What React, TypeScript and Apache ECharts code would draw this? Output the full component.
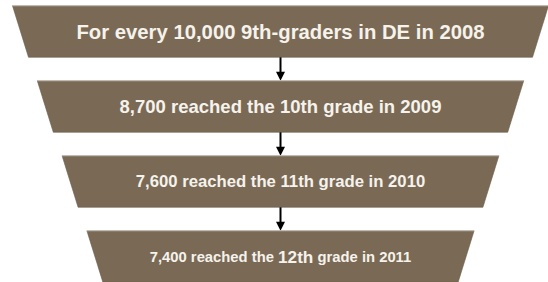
import React, { useEffect, useRef } from "react";
import * as echarts from "echarts";

// Data
const state = "DE";
const grades = ["9th", "10th", "11th", "12th"];
const years = [2008, 2009, 2010, 2011];
const students = [10000, 8700, 7600, 7400];

const fmt = (v: number) => v.toLocaleString("en-US");

const labels = students.map((v, i) =>
  i === 0
    ? `For every ${fmt(v)} ${grades[i]}-graders in ${state} in ${years[i]}`
    : i === students.length - 1
    ? `{a|${fmt(v)} reached the }{b|${grades[i]}}{a| grade in ${years[i]}}`
    : `${fmt(v)} reached the ${grades[i]} grade in ${years[i]}`
);

const FILL = "#7a6a55";
const TEXT = "#f6f2ec";
const FONT = "'Liberation Sans', Arial, sans-serif";
const fontSizes = [20.3, 18.5, 16.7, 14.8];

export default function App() {
  const ref = useRef<HTMLDivElement>(null);
  useEffect(() => {
    if (!ref.current) return;
    const chart = echarts.init(ref.current, undefined, { renderer: "svg" });
    const n = students.length;
    const CX = 280.5;
    chart.setOption({
      animation: false,
      grid: { left: 0, right: 0, top: 0, bottom: 0 },
      xAxis: { type: "value", min: 0, max: 548, show: false },
      yAxis: { type: "value", min: -0.42, max: 3.34, inverse: true, show: false },
      series: [
        {
          type: "custom",
          coordinateSystem: "cartesian2d",
          data: students.map((v, i) => [i, v]),
          renderItem: (params: any, api: any) => {
            const i = api.value(0) as number;
            const c = api.coord([CX, i]);
            const unit = api.size([1, 1]);
            const band = unit[1];
            const h = band * 0.687;
            const topHalf = (268 - 24.8 * i) * unit[0];
            const inset = 16;
            const yTop = c[1] - h / 2;
            const yBot = c[1] + h / 2;
            const children: any[] = [
              {
                type: "polygon",
                shape: {
                  points: [
                    [c[0] - topHalf, yTop],
                    [c[0] + topHalf, yTop],
                    [c[0] + topHalf - inset, yBot],
                    [c[0] - topHalf + inset, yBot],
                  ],
                },
                style: { fill: FILL, stroke: "#6a5b48", lineWidth: 0.6 },
              },
              {
                type: "line",
                shape: { x1: c[0] - topHalf, y1: yTop, x2: c[0] + topHalf, y2: yTop },
                style: { stroke: "#c9c3bb", lineWidth: 1 },
              },
              {
                type: "text",
                style: {
                  text: labels[i],
                  x: c[0],
                  y: c[1],
                  align: "center",
                  verticalAlign: "middle",
                  fill: TEXT,
                  fontSize: fontSizes[i],
                  fontWeight: "bold",
                  fontFamily: FONT,
                  rich: {
                    a: { fill: TEXT, fontSize: fontSizes[i], fontWeight: "bold", fontFamily: FONT },
                    b: { fill: TEXT, fontSize: 17.2, fontWeight: "bold", fontFamily: FONT },
                  },
                },
              },
            ];
            if (i < n - 1) {
              const nextTop = yTop + band;
              const headH = 9;
              children.push(
                {
                  type: "line",
                  shape: { x1: c[0], y1: yBot, x2: c[0], y2: nextTop - headH + 1 },
                  style: { stroke: "#000", lineWidth: 2 },
                },
                {
                  type: "polygon",
                  shape: {
                    points: [
                      [c[0] - 4.5, nextTop - headH],
                      [c[0] + 4.5, nextTop - headH],
                      [c[0], nextTop],
                    ],
                  },
                  style: { fill: "#000" },
                }
              );
            }
            return { type: "group", children };
          },
        },
      ],
    });
    return () => chart.dispose();
  }, []);
  return (
    <div
      ref={ref}
      style={{ position: "fixed", left: 0, top: 0, width: 548, height: 282, background: "#fff" }}
    />
  );
}
